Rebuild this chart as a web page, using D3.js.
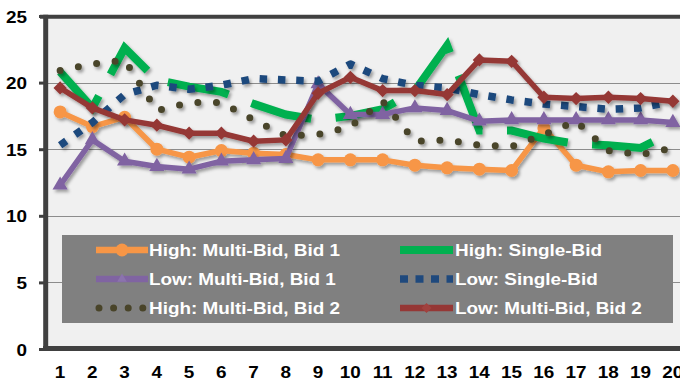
<!DOCTYPE html>
<html>
<head>
<meta charset="utf-8">
<script src="https://cdn.jsdelivr.net/npm/d3@7"></script>
<style>
  html, body { margin: 0; padding: 0; background: #ffffff; }
  svg { display: block; }
  text { font-family: "Liberation Sans", Arial, sans-serif; font-weight: bold; }
</style>
</head>
<body>
<script>
// Round numbers along the horizontal axis
const categories = [1, 2, 3, 4, 5, 6, 7, 8, 9, 10, 11, 12, 13, 14, 15, 16, 17, 18, 19, 20];

// Bid values per round
const highMultiBid1 = [17.8, 16.7, 17.4, 15.0, 14.4, 14.9, 14.7, 14.6, 14.2, 14.2, 14.2, 13.8, 13.6, 13.5, 13.4, 16.6, 13.8, 13.3, 13.4, 13.4];
const highSingleBid = [20.8, 18.1, 22.6, 20.2, 19.7, 19.3, 18.4, 17.6, 17.2, 17.5, 18.0, 19.4, 22.8, 16.4, 16.4, 15.8, 15.4, 15.3, 15.1, 16.3];
const lowMultiBid1  = [12.3, 15.7, 14.1, 13.7, 13.5, 14.1, 14.2, 14.3, 19.9, 17.6, 17.6, 18.1, 17.9, 17.1, 17.2, 17.2, 17.2, 17.2, 17.2, 17.0];
const lowSingleBid  = [15.3, 17.0, 19.1, 19.8, 19.5, 19.8, 20.3, 20.2, 20.1, 21.4, 20.3, 19.8, 19.6, 19.1, 18.7, 18.4, 18.2, 18.0, 18.1, 18.6];
const highMultiBid2 = [20.9, 21.4, 21.7, 17.9, 18.5, 18.5, 17.2, 16.0, 16.1, 16.7, 18.6, 15.6, 15.7, 15.3, 15.2, 16.1, 17.1, 14.9, 14.6, 15.1];
const lowMultiBid2  = [19.6, 18.1, 17.2, 16.8, 16.2, 16.2, 15.6, 15.7, 19.2, 20.4, 19.4, 19.4, 19.1, 21.7, 21.6, 18.9, 18.8, 18.9, 18.8, 18.6];

// Value axis ticks
const yTicks = [0, 5, 10, 15, 20, 25];
const gridTicks = [5, 10, 15, 20];

const seriesNames = [
  "High: Multi-Bid, Bid 1",
  "High: Single-Bid",
  "Low: Multi-Bid, Bid 1",
  "Low: Single-Bid",
  "High: Multi-Bid, Bid 2",
  "Low: Multi-Bid, Bid 2"
];

const W = 680, H = 382;
const plot = { left: 44, right: 689, top: 16, bottom: 349 };
const TEXT_STRETCH = 1.16;

const x = d3.scaleBand().domain(categories).range([plot.left, plot.right]);
const xc = c => x(c) + x.bandwidth() / 2;
const y = d3.scaleLinear().domain([0, 25]).range([plot.bottom, plot.top]);

// Line and marker styles per series
const styles = [
  { values: highMultiBid1, color: "#f79646", width: 5.5, marker: "circle" },
  { values: highSingleBid, color: "#00b050", width: 8, dash: "62,24.5", join: "miter" },
  { values: lowMultiBid1,  color: "#8064a2", width: 5.5, marker: "triangle" },
  { values: lowSingleBid,  color: "#1f497d", width: 7.5, dash: "7.5,10.8" },
  { values: highMultiBid2, color: "#494429", width: 7, dash: "0,18.6", cap: "round" },
  { values: lowMultiBid2,  color: "#953735", width: 5.5, marker: "diamond" }
];

const svg = d3.select("body").append("svg")
  .attr("width", W).attr("height", H);

const defs = svg.append("defs");
const f = defs.append("filter").attr("id", "shadow")
  .attr("x", "-10%").attr("y", "-20%").attr("width", "130%").attr("height", "150%");
f.append("feDropShadow")
  .attr("dx", 2).attr("dy", 2.5).attr("stdDeviation", 1.6)
  .attr("flood-color", "#000").attr("flood-opacity", 0.35);

// Plot background
svg.append("rect")
  .attr("x", 45).attr("y", plot.top)
  .attr("width", W - 45).attr("height", plot.bottom - plot.top)
  .attr("fill", "#f0f0f0");

// Horizontal gridlines
svg.append("g").selectAll("line").data(gridTicks).join("line")
  .attr("x1", 45).attr("x2", W)
  .attr("y1", d => Math.round(y(d)) + 0.5).attr("y2", d => Math.round(y(d)) + 0.5)
  .attr("stroke", "#8c8c8c").attr("stroke-width", 1);

// Value axis
const yAxis = svg.append("g")
  .attr("transform", "translate(45,0)")
  .call(d3.axisLeft(y).tickValues(yTicks).tickSize(6).tickSizeOuter(0));
yAxis.select(".domain").remove();
yAxis.selectAll(".tick line").attr("stroke", "#404040").attr("stroke-width", 3);
yAxis.selectAll(".tick text")
  .attr("x", -18 / TEXT_STRETCH)
  .attr("dy", null).attr("y", 6)
  .attr("transform", `scale(${TEXT_STRETCH},1)`)
  .attr("fill", "#000").attr("font-size", 16.3)
  .attr("font-family", null).attr("text-anchor", "end");

// Category axis labels
const xAxis = svg.append("g")
  .attr("transform", `translate(0,${plot.bottom})`)
  .call(d3.axisBottom(x).tickSize(0));
xAxis.select(".domain").remove();
xAxis.selectAll(".tick text")
  .attr("y", 29).attr("dy", null)
  .attr("transform", `scale(${TEXT_STRETCH},1)`)
  .attr("fill", "#000").attr("font-size", 16.3)
  .attr("font-family", null);

// Plot frame: top border, left and bottom axis lines
svg.append("line").attr("x1", 40).attr("x2", W).attr("y1", 16.7).attr("y2", 16.7)
  .attr("stroke", "#404040").attr("stroke-width", 4);
svg.append("line").attr("x1", 45.7).attr("x2", 45.7).attr("y1", 14.7).attr("y2", 350.8)
  .attr("stroke", "#404040").attr("stroke-width", 5);
svg.append("line").attr("x1", 43).attr("x2", W).attr("y1", 348.4).attr("y2", 348.4)
  .attr("stroke", "#404040").attr("stroke-width", 5);

// Series
const line = d3.line().x(d => xc(d.c)).y(d => y(d.v));

const markerPath = {
  triangle: d3.symbol(d3.symbolTriangle, 100)(),
  diamond: d3.symbol(d3.symbolSquare, 88)()
};

styles.forEach(s => {
  const pts = categories.map((c, i) => ({ c, v: s.values[i] }));
  const g = svg.append("g").attr("filter", "url(#shadow)");
  g.append("path")
    .attr("d", line(pts))
    .attr("fill", "none")
    .attr("stroke", s.color)
    .attr("stroke-width", s.width)
    .attr("stroke-linejoin", s.join || "round")
    .attr("stroke-linecap", s.cap || "butt")
    .attr("stroke-dasharray", s.dash || null);
  if (s.marker === "circle") {
    g.selectAll("circle").data(pts).join("circle")
      .attr("cx", d => xc(d.c)).attr("cy", d => y(d.v)).attr("r", 6.5)
      .attr("fill", s.color);
  } else if (s.marker === "triangle") {
    g.selectAll("path.m").data(pts).join("path").attr("class", "m")
      .attr("d", markerPath.triangle)
      .attr("transform", d => `translate(${xc(d.c)},${y(d.v)})`)
      .attr("fill", s.color);
  } else if (s.marker === "diamond") {
    g.selectAll("path.m").data(pts).join("path").attr("class", "m")
      .attr("d", markerPath.diamond)
      .attr("transform", d => `translate(${xc(d.c)},${y(d.v)}) rotate(45)`)
      .attr("fill", s.color);
  }
});

// Legend
const legend = svg.append("g");
legend.append("rect")
  .attr("x", 62).attr("y", 235).attr("width", 611).attr("height", 88)
  .attr("fill", "#808080");

const legendRows = [250, 279, 308];
const legendCols = [{ x0: 96, x1: 148, tx: 149 }, { x0: 400, x1: 453, tx: 455 }];
const legendDash = ["", "", "", "8,7.5", "0,14.6", ""];

styles.forEach((s, i) => {
  const col = legendCols[i % 2];
  const ry = legendRows[Math.floor(i / 2)];
  const lg = legend.append("g");
  lg.append("line")
    .attr("x1", col.x0 + (s.cap === "round" ? 3 : 0)).attr("x2", col.x1)
    .attr("y1", ry).attr("y2", ry)
    .attr("stroke", s.color)
    .attr("stroke-width", s.marker ? 6.5 : s.width)
    .attr("stroke-linecap", s.cap || "butt")
    .attr("stroke-dasharray", legendDash[i] || null);
  const mx = (col.x0 + col.x1) / 2;
  if (s.marker === "circle") {
    lg.append("circle").attr("cx", mx).attr("cy", ry).attr("r", 6.5).attr("fill", s.color);
  } else if (s.marker === "triangle") {
    lg.append("path").attr("d", d3.symbol(d3.symbolTriangle, 40)())
      .attr("transform", `translate(${mx},${ry})`).attr("fill", "#8b73ad");
  } else if (s.marker === "diamond") {
    lg.append("path").attr("d", d3.symbol(d3.symbolSquare, 50)())
      .attr("transform", `translate(${mx},${ry}) rotate(45)`).attr("fill", "#a0413e");
  }
  lg.append("text")
    .attr("transform", `translate(${col.tx},${ry + 5.8}) scale(${TEXT_STRETCH},1)`)
    .attr("fill", "#ffffff").attr("font-size", 16.3)
    .text(seriesNames[i]);
});
</script>
</body>
</html>
